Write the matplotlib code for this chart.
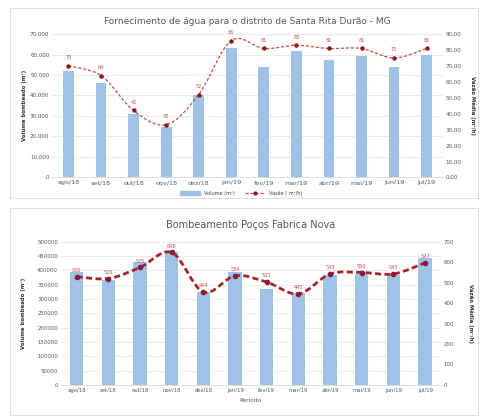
import matplotlib.pyplot as plt
import numpy as np
from matplotlib.path import Path
from matplotlib.patches import PathPatch, Rectangle
from matplotlib.lines import Line2D

# ===== DATA =====
meses = ["ago/18", "set/18", "out/18", "nov/18", "dez/18", "jan/19",
         "fev/19", "mar/19", "abr/19", "mai/19", "jun/19", "jul/19"]

# Santa Rita Durão
volume_srd = [52000, 46000, 30800, 24500, 40000, 63000,
              54000, 61800, 57400, 59500, 53800, 60000]
vazao_srd = [70, 64, 42, 33, 52, 86, 81, 83, 81, 81, 75, 81]

# Fabrica Nova
volume_fn = [394000, 367000, 431000, 466000, 326000, 394000,
             336000, 321000, 385000, 389000, 385000, 445000]
vazao_fn = [530, 520, 575, 648, 454, 534, 503, 445, 543, 550, 543, 597]

BAR = "#9DC3E6"
GRID = "#E3E3E3"
TXT = "#595959"


def smooth_path(x, y):
    # cubic bezier through the points (Catmull-Rom style control points)
    x = np.asarray(x, float)
    y = np.asarray(y, float)
    verts = [(x[0], y[0])]
    codes = [Path.MOVETO]
    n = len(x)
    for i in range(n - 1):
        p0 = i - 1 if i > 0 else i
        p3 = i + 2 if i + 2 < n else i + 1
        c1 = (x[i] + (x[i + 1] - x[p0]) / 6, y[i] + (y[i + 1] - y[p0]) / 6)
        c2 = (x[i + 1] - (x[p3] - x[i]) / 6, y[i + 1] - (y[p3] - y[i]) / 6)
        verts += [c1, c2, (x[i + 1], y[i + 1])]
        codes += [Path.CURVE4] * 3
    return Path(verts, codes)


def style_axes(ax, ax2, xsize, ysize):
    for a in (ax, ax2):
        for s in a.spines.values():
            s.set_visible(False)
        a.tick_params(length=0, labelsize=ysize, colors=TXT, pad=2)
    ax.tick_params(axis="x", labelsize=xsize)
    ax.spines["bottom"].set_visible(True)
    ax.spines["bottom"].set_color("#D0D0D0")
    ax.spines["bottom"].set_linewidth(0.5)
    ax.yaxis.grid(True, color=GRID, lw=0.5)
    ax.set_axisbelow(True)


fig = plt.figure(figsize=(4.83, 4.17), dpi=100)
fig.patch.set_facecolor("white")

# panel frames
fig.patches.append(Rectangle((10 / 483, 1 - 198 / 417), 468 / 483, 190 / 417,
                             transform=fig.transFigure, fill=False,
                             ec="#DADADA", lw=0.6))
fig.patches.append(Rectangle((10 / 483, 1 - 415 / 417), 468 / 483, 207 / 417,
                             transform=fig.transFigure, fill=False,
                             ec="#DADADA", lw=0.6))

x = np.arange(len(meses))

# ===== TOP CHART =====
ax = fig.add_axes([0.108, 0.575, 0.809, 0.343])
ax2 = ax.twinx()
ax.bar(x, volume_srd, width=0.33, color=BAR, zorder=2)
ax.set_ylim(0, 70000)
ax.set_yticks(np.arange(0, 70001, 10000))
ax.set_yticklabels(["0"] + [f"{v:,}".replace(",", ".") for v in range(10000, 70001, 10000)])
ax.set_xlim(-0.5, 11.5)
ax.set_xticks(x)
ax.set_xticklabels(meses)
ax.set_ylabel("Volume bombeado (m³)", fontsize=3.9, fontweight="bold", color="#333333", labelpad=2)

ax2.set_ylim(0, 90)
ax2.set_yticks(np.arange(0, 91, 10))
ax2.set_yticklabels([f"{v},00" for v in range(0, 91, 10)])
ax2.add_patch(PathPatch(smooth_path(x, vazao_srd), fill=False, ec="#C0504D",
                        lw=0.9, ls=(0, (2.5, 1.5)), zorder=3))
ax2.plot(x, vazao_srd, "o", ms=2.2, color="#8B1A1A", zorder=4)
for xi, v in zip(x, vazao_srd):
    ax2.text(xi, v + 3.5, str(v), ha="center", va="bottom", fontsize=3.6, color="#C0504D")
ax2.set_ylabel("Vazão Média (m³/h)", fontsize=3.9, fontweight="bold", color="#333333",
               rotation=270, labelpad=10)
style_axes(ax, ax2, 4.6, 4.1)

ax.set_title("Fornecimento de água para o distrito de Santa Rita Durão - MG",
             fontsize=6.5, color=TXT, pad=7)

leg_handles = [Rectangle((0, 0), 1, 1, color=BAR),
               Line2D([], [], color="#C0504D", lw=0.9, ls=(0, (2.5, 1.5)),
                      marker="o", ms=2, mfc="#8B1A1A", mec="#8B1A1A")]
fig.legend(leg_handles, ["Volume (m³)", "Vazão ( m³/h)"], loc="center",
           bbox_to_anchor=(0.5, 1 - 193 / 417), ncol=2, frameon=False,
           fontsize=3.6, handlelength=4, columnspacing=2, labelcolor="#404040")

# ===== BOTTOM CHART =====
bx = fig.add_axes([0.126, 0.077, 0.787, 0.343])
bx2 = bx.twinx()
bx.bar(x, volume_fn, width=0.42, color=BAR, zorder=2)
bx.set_ylim(0, 500000)
bx.set_yticks(np.arange(0, 500001, 50000))
bx.set_yticklabels([str(v) for v in range(0, 500001, 50000)])
bx.set_xlim(-0.5, 11.5)
bx.set_xticks(x)
bx.set_xticklabels(meses)
bx.set_ylabel("Volume bombeado (m³)", fontsize=3.9, fontweight="bold", color="#333333", labelpad=8)
bx.set_xlabel("Período", fontsize=4.2, color=TXT, labelpad=4)

bx2.set_ylim(0, 700)
bx2.set_yticks(np.arange(0, 701, 100))
bx2.add_patch(PathPatch(smooth_path(x, vazao_fn), fill=False, ec="#A5252A",
                        lw=2.0, ls=(0, (2.2, 1.2)), zorder=3))
bx2.plot(x, vazao_fn, "o", ms=3, color="#8B1A3A", zorder=4)
for xi, v in zip(x, vazao_fn):
    bx2.text(xi, v + 18, str(v), ha="center", va="bottom", fontsize=3.6, color="#C0504D")
bx2.set_ylabel("Vazão Média (m³/h)", fontsize=3.9, fontweight="bold", color="#333333",
               rotation=270, labelpad=14)
style_axes(bx, bx2, 3.9, 3.9)

bx.set_title("Bombeamento Poços Fabrica Nova", fontsize=7, color=TXT, pad=10)

plt.savefig("out.png", dpi=100)
